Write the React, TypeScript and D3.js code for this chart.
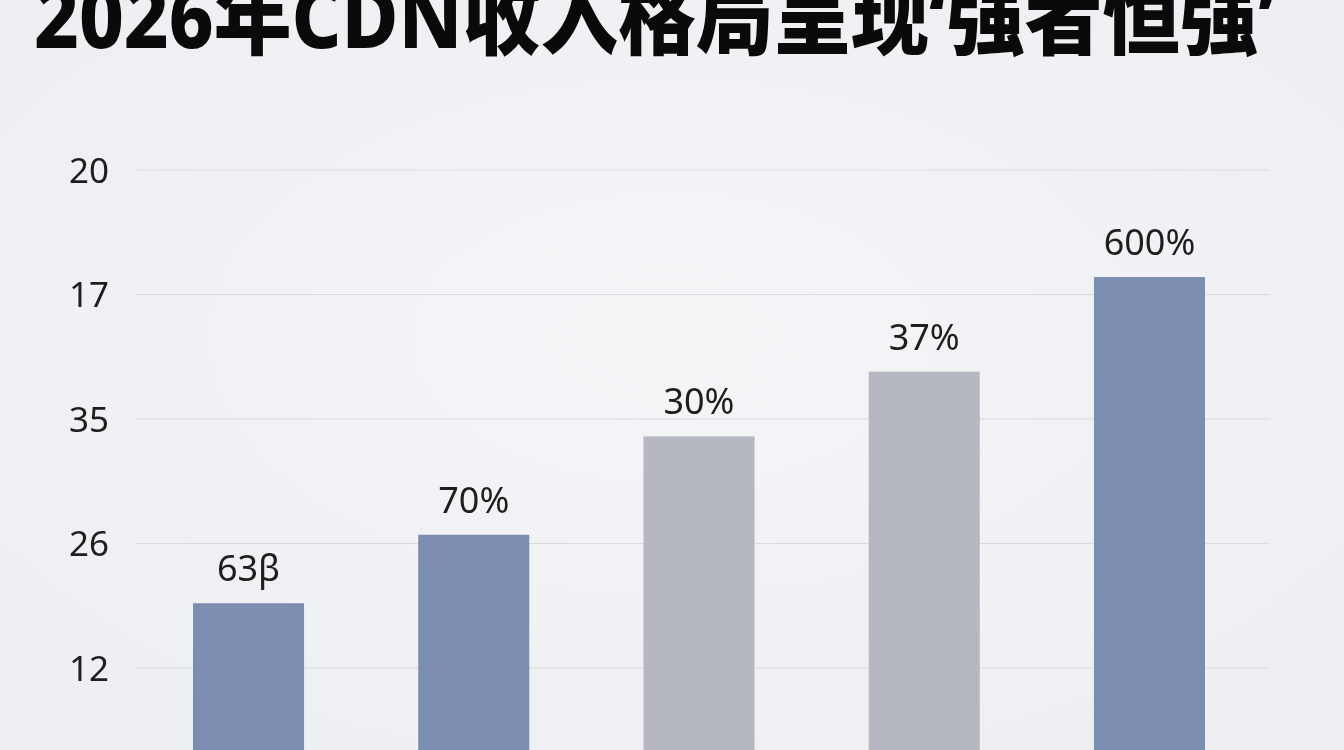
import { useEffect, useRef } from 'react';
import { scaleBand, scaleLinear, select } from 'd3';

const title = '2026年CDN收入格局呈现‘强者恒强’';

// y-axis gridline positions (in chart units) and the labels printed beside them
const tickValues = [1, 2, 3, 4, 5];
const tickLabels = ['12', '26', '35', '17', '20'];

const categories = ['A', 'B', 'C', 'D', 'E'];
const barValues = [1.52, 2.07, 2.86, 3.38, 4.14];
const barLabels = ['63β', '70%', '30%', '37%', '600%'];
const barTones = ['blue', 'blue', 'grey', 'grey', 'blue'];

const W = 1344;
const H = 750;

const toneColor: Record<string, string> = {
  blue: '#7b8db0',
  grey: '#b6b8c1',
};

const App = () => {
  const svgRef = useRef<SVGSVGElement>(null);

  useEffect(() => {
    const svg = select(svgRef.current);
    if (!svgRef.current) return;
    svg.selectAll('*').remove();

    const x = scaleBand<string>()
      .domain(categories)
      .range([193, 1205])
      .paddingInner(0.507)
      .paddingOuter(0);

    const y = scaleLinear().domain([0, 5]).range([792.5, 170]);

    const defs = svg.append('defs');
    const grad = defs
      .append('radialGradient')
      .attr('id', 'bg')
      .attr('cx', '50%')
      .attr('cy', '45%')
      .attr('r', '70%');
    grad.append('stop').attr('offset', '0%').attr('stop-color', '#f4f5f7');
    grad.append('stop').attr('offset', '100%').attr('stop-color', '#eceef1');

    svg
      .append('rect')
      .attr('width', W)
      .attr('height', H)
      .attr('fill', 'url(#bg)');

    svg
      .append('g')
      .selectAll('line')
      .data(tickValues)
      .join('line')
      .attr('x1', 135)
      .attr('x2', 1270)
      .attr('y1', (d) => y(d))
      .attr('y2', (d) => y(d))
      .attr('stroke', '#dadbe0')
      .attr('stroke-width', 1.2);

    svg
      .append('g')
      .selectAll('text')
      .data(tickValues)
      .join('text')
      .attr('x', 109)
      .attr('y', (d) => y(d))
      .attr('dy', '0.36em')
      .attr('text-anchor', 'end')
      .attr('font-family', '"Noto Sans", sans-serif')
      .attr('font-size', 35)
      .attr('fill', '#1e1e1e')
      .text((d, i) => tickLabels[i]);

    const bars = svg
      .append('g')
      .selectAll('g')
      .data(categories)
      .join('g');

    bars
      .append('rect')
      .attr('x', (d) => x(d)!)
      .attr('width', x.bandwidth())
      .attr('y', (d, i) => y(barValues[i]))
      .attr('height', (d, i) => y(0) - y(barValues[i]))
      .attr('fill', (d, i) => toneColor[barTones[i]]);

    bars
      .append('text')
      .attr('x', (d) => x(d)! + x.bandwidth() / 2)
      .attr('y', (d, i) => y(barValues[i]) - 22)
      .attr('text-anchor', 'middle')
      .attr('font-family', '"Noto Sans", sans-serif')
      .attr('font-size', 36)
      .attr('fill', '#1e1e1e')
      .text((d, i) => barLabels[i]);

    svg
      .append('text')
      .attr('x', 34)
      .attr('y', 48)
      .attr('textLength', 1242)
      .attr('lengthAdjust', 'spacingAndGlyphs')
      .attr('font-family', '"Noto Sans", "Noto Sans CJK SC", sans-serif')
      .attr('font-weight', 800)
      .attr('font-size', 86)
      .attr('fill', '#0a0a0a')
      .text(title);
  }, []);

  return (
    <div style={{ position: 'fixed', left: 0, top: 0 }}>
      <svg ref={svgRef} width={W} height={H} style={{ display: 'block' }} />
    </div>
  );
};

export default App;
